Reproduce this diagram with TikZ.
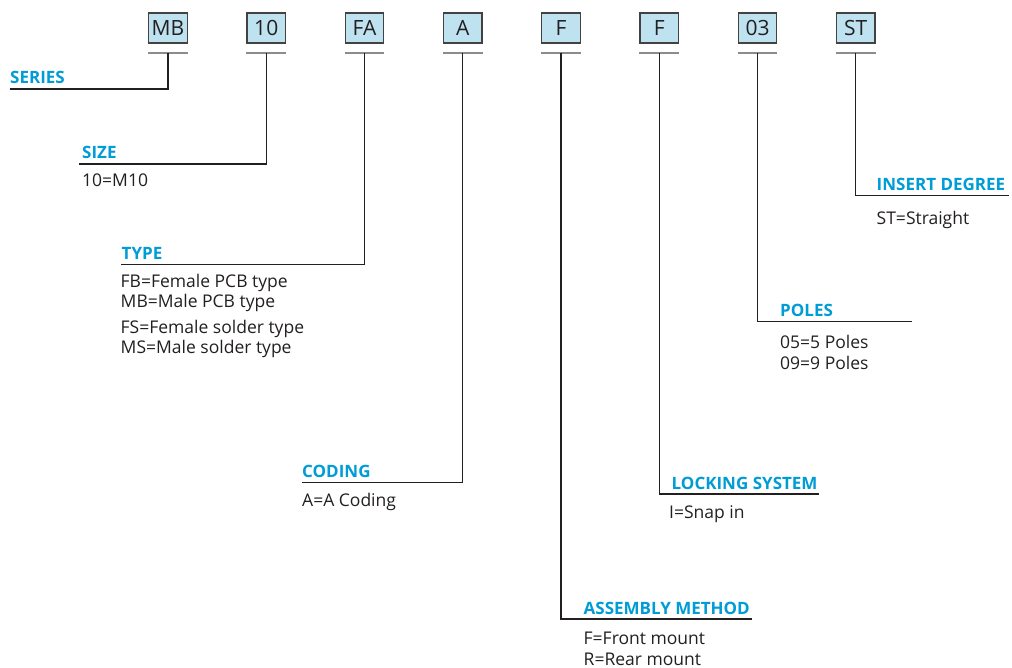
\documentclass[tikz,border=0pt]{standalone}
\usepackage{fontspec}
\setmainfont{Open Sans}
\usetikzlibrary{calc}

\begin{document}
\begin{tikzpicture}[x=1pt,y=-1pt]
    \definecolor{boxblue}{RGB}{190,226,240}
    \definecolor{headblue}{RGB}{0,156,214}
    \definecolor{ink}{RGB}{35,31,32}
    \tikzset{
      code/.style={draw=ink!85,line width=1.3pt,fill=boxblue,minimum width=38.5pt,
        minimum height=30pt,inner sep=0pt,text=ink,font=\fontsize{21}{21}\selectfont},
      bar/.style={draw=black!45,line width=2.2pt},
      link/.style={draw=ink,line width=1.1pt},
      head/.style={anchor=base west,inner sep=0pt,text=headblue,
        font=\bfseries\fontsize{17}{17}\selectfont},
      desc/.style={anchor=base west,inner sep=0pt,text=ink,
        font=\fontsize{17.5}{17.5}\selectfont}
    }
    \useasboundingbox (0,0) rectangle (1012,668);
    % code boxes with the grey bar below each
    \foreach \t [count=\i] in {MB,10,FA,A,F,F,03,ST} {
      \node[code] (b\i) at ({168+98.25*(\i-1)},28) {\t};
      \draw[bar] ([yshift=-9pt]b\i.south west) -- coordinate (t\i) ([yshift=-9pt]b\i.south east);
    }
    % left side
    \node[head] (series) at (10,84) {SERIES};
    \coordinate (u1) at (10,89);
    \draw[link] (t1) |- (u1);

    \node[head] (size) at (82,159) {SIZE};
    \node[desc] (size1) at (82,187) {10=M10};
    \coordinate (u2) at (79,164);
    \draw[link] (t2) |- (u2);

    \node[head] (type) at (121.5,259.5) {TYPE};
    \node[desc] (type1) at (120.5,287.5) {FB=Female PCB type};
    \node[desc] (type2) at (120.5,307.5) {MB=Male PCB type};
    \node[desc] (type3) at (120.5,333.5) {FS=Female solder type};
    \node[desc] (type4) at (120.5,353.5) {MS=Male solder type};
    \coordinate (u3) at (120.5,264.5);
    \draw[link] (t3) |- (u3);

    \node[head] (coding) at (302,477.5) {CODING};
    \node[desc] (coding1) at (302,506) {A=A Coding};
    \coordinate (u4) at (301.5,482.5);
    \draw[link] (t4) |- (u4);

    % right side
    \node[head] (assembly) at (583.5,614) {ASSEMBLY METHOD};
    \node[desc] (assembly1) at (583.5,644) {F=Front mount};
    \node[desc] (assembly2) at (583.5,665) {R=Rear mount};
    \coordinate (u5) at (751.5,619);
    \draw[link] (t5) |- (u5);

    \node[head] (locking) at (671.5,489) {LOCKING SYSTEM};
    \node[desc] (locking1) at (669,518) {I=Snap in};
    \coordinate (u6) at (818.5,494);
    \draw[link] (t6) |- (u6);

    \node[head] (poles) at (780,316.5) {POLES};
    \node[desc] (poles1) at (780,348.5) {05=5 Poles};
    \node[desc] (poles2) at (780,369) {09=9 Poles};
    \coordinate (u7) at (911.5,321.5);
    \draw[link] (t7) |- (u7);

    \node[head] (insert) at (876.5,190.5) {INSERT DEGREE};
    \node[desc] (insert1) at (876.5,225) {ST=Straight};
    \coordinate (u8) at (1009,195.5);
    \draw[link] (t8) |- (u8);
\end{tikzpicture}
\end{document}
